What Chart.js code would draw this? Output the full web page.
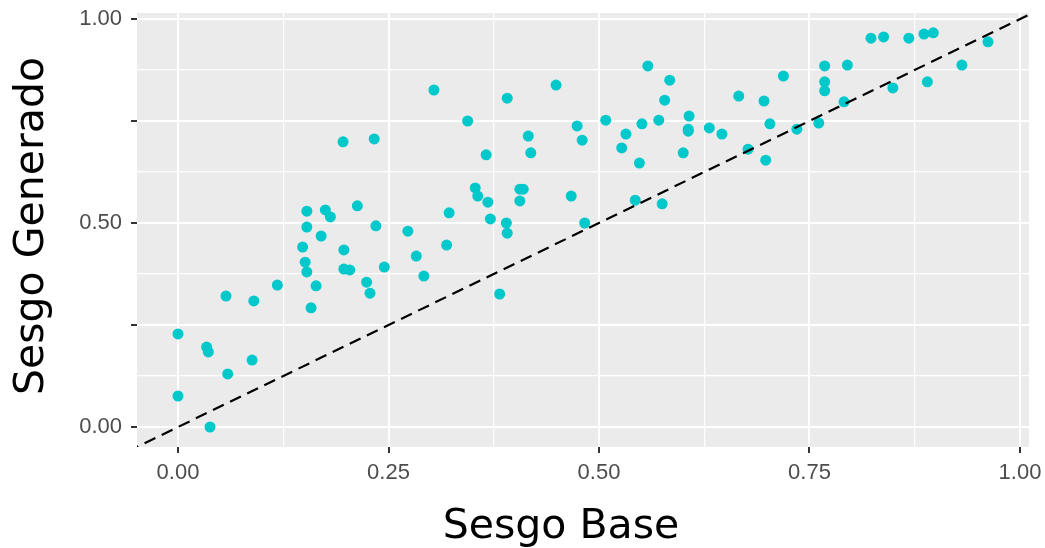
<!DOCTYPE html>
<html>
<head>
<meta charset="utf-8">
<script src="https://cdn.jsdelivr.net/npm/chart.js"></script>
<style>
  html, body { margin: 0; padding: 0; background: #ffffff; }
  #wrap { width: 1045px; height: 548px; }
</style>
</head>
<body>
<div id="wrap"><canvas id="chart" width="1045" height="548"></canvas></div>
<script>
// values
const sesgoBase = [
  0.000, 0.000, 0.034, 0.036, 0.038, 0.057, 0.059, 0.088, 0.090, 0.118,
  0.148, 0.151, 0.153, 0.153, 0.153, 0.158, 0.164, 0.170, 0.175, 0.181,
  0.196, 0.197, 0.197, 0.204, 0.213, 0.224, 0.228, 0.233, 0.235, 0.245,
  0.273, 0.283, 0.292, 0.304, 0.319, 0.322, 0.344, 0.353, 0.356, 0.366,
  0.368, 0.371, 0.382, 0.390, 0.391, 0.391, 0.406, 0.406, 0.410, 0.416,
  0.419, 0.449, 0.467, 0.474, 0.480, 0.483, 0.508, 0.527, 0.532, 0.543,
  0.548, 0.551, 0.558, 0.571, 0.575, 0.578, 0.584, 0.600, 0.607, 0.606,
  0.606, 0.631, 0.646, 0.666, 0.677, 0.696, 0.698, 0.703, 0.719, 0.735,
  0.761, 0.768, 0.768, 0.768, 0.791, 0.795, 0.823, 0.838, 0.849, 0.868,
  0.886, 0.890, 0.897, 0.931, 0.962
];
const sesgoGenerado = [
  0.228, 0.076, 0.196, 0.184, 0.000, 0.321, 0.130, 0.164, 0.309, 0.348,
  0.441, 0.404, 0.529, 0.490, 0.380, 0.292, 0.346, 0.468, 0.532, 0.515,
  0.699, 0.434, 0.387, 0.385, 0.542, 0.355, 0.328, 0.706, 0.493, 0.392,
  0.480, 0.419, 0.370, 0.826, 0.446, 0.525, 0.750, 0.586, 0.566, 0.667,
  0.551, 0.510, 0.326, 0.500, 0.475, 0.806, 0.554, 0.583, 0.583, 0.713,
  0.672, 0.838, 0.566, 0.738, 0.703, 0.500, 0.752, 0.684, 0.718, 0.556,
  0.647, 0.743, 0.885, 0.752, 0.547, 0.801, 0.850, 0.672, 0.762, 0.730,
  0.725, 0.733, 0.718, 0.811, 0.681, 0.799, 0.654, 0.743, 0.860, 0.730,
  0.745, 0.885, 0.846, 0.824, 0.797, 0.887, 0.953, 0.956, 0.831, 0.953,
  0.963, 0.846, 0.966, 0.887, 0.944
];
// identity reference line y = x
const refLine = [-0.06, 1.06];

const gridSteps = [0, 0.125, 0.25, 0.375, 0.5, 0.625, 0.75, 0.875, 1];
const xTickLabels = ['0.00', '0.25', '0.50', '0.75', '1.00'];
const yTickLabels = ['0.00', '0.50', '1.00'];

const xRange = [-0.0487, 1.0107];
const yRange = [-0.049, 1.0147];

const isMajor = v => Math.abs(v * 4 - Math.round(v * 4)) < 1e-6;
const fmt = v => v.toFixed(2);

const panelBg = {
  id: 'panelBg',
  beforeDraw(chart) {
    const { ctx, chartArea: a } = chart;
    ctx.save();
    ctx.fillStyle = '#ffffff';
    ctx.fillRect(0, 0, chart.width, chart.height);
    ctx.fillStyle = '#EBEBEB';
    ctx.fillRect(a.left, a.top, a.right - a.left, a.bottom - a.top);
    ctx.restore();
  }
};

const axisTitles = {
  id: 'axisTitles',
  afterDraw(chart) {
    const { ctx } = chart;
    ctx.save();
    ctx.fillStyle = '#000000';
    ctx.font = '41px "DejaVu Sans"';
    ctx.textAlign = 'center';
    ctx.textBaseline = 'alphabetic';
    ctx.fillText('Sesgo Base', 561, 538);
    ctx.translate(43, 226);
    ctx.rotate(-Math.PI / 2);
    ctx.fillText('Sesgo Generado', 0, 0);
    ctx.restore();
  }
};

const gridOpts = {
  color: '#ffffff',
  lineWidth: c => (c.tick && isMajor(c.tick.value) ? 2 : 1.2),
  tickColor: c => (c.tick && isMajor(c.tick.value) ? '#333333' : 'rgba(0,0,0,0)'),
  tickWidth: 2,
  tickLength: 6
};

new Chart(document.getElementById('chart'), {
  type: 'scatter',
  data: {
    datasets: [
      {
        type: 'line',
        data: refLine.map(v => ({ x: v, y: v })),
        borderColor: '#000000',
        borderWidth: 2.2,
        borderDash: [12, 7],
        pointRadius: 0,
        fill: false,
        clip: 0,
        order: 0
      },
      {
        data: sesgoBase.map((x, i) => ({ x: x, y: sesgoGenerado[i] })),
        backgroundColor: '#00C8CB',
        borderWidth: 0,
        pointRadius: 5.5,
        order: 1
      }
    ]
  },
  options: {
    responsive: false,
    animation: false,
    events: [],
    layout: { padding: { left: 0, top: 13, right: 16, bottom: 0 } },
    plugins: { legend: { display: false }, tooltip: { enabled: false } },
    scales: {
      x: {
        type: 'linear',
        min: xRange[0],
        max: xRange[1],
        afterBuildTicks: s => { s.ticks = gridSteps.map(v => ({ value: v })); },
        afterFit: s => {
          s.height = 101;
          s.paddingLeft = 0;
          s.paddingRight = 0;
        },
        border: { display: false },
        grid: gridOpts,
        ticks: {
          autoSkip: false,
          maxRotation: 0,
          padding: 7,
          color: '#4D4D4D',
          font: { family: '"Liberation Sans"', size: 22 },
          callback: v => (xTickLabels.includes(fmt(v)) ? fmt(v) : '')
        }
      },
      y: {
        type: 'linear',
        min: yRange[0],
        max: yRange[1],
        afterBuildTicks: s => { s.ticks = gridSteps.map(v => ({ value: v })); },
        afterFit: s => {
          s.width = 137;
          s.paddingTop = 0;
          s.paddingBottom = 0;
        },
        border: { display: false },
        grid: gridOpts,
        ticks: {
          autoSkip: false,
          padding: 9,
          color: '#4D4D4D',
          font: { family: '"Liberation Sans"', size: 22 },
          callback: v => (yTickLabels.includes(fmt(v)) ? fmt(v) : '')
        }
      }
    }
  },
  plugins: [panelBg, axisTitles]
});
</script>
</body>
</html>
